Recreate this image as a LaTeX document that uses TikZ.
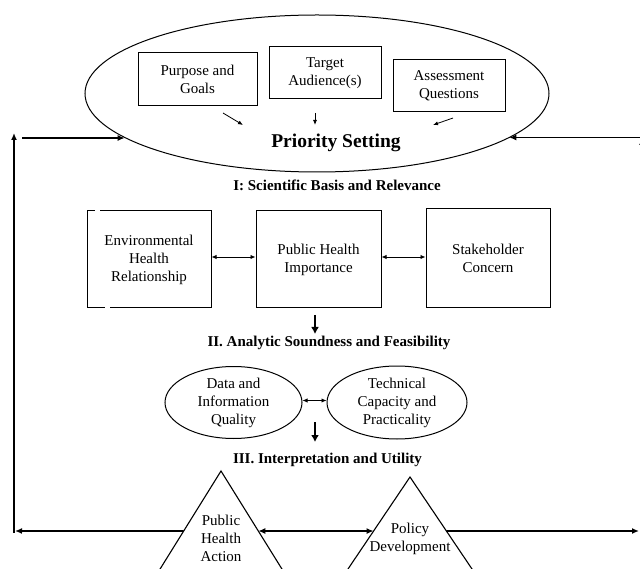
\documentclass[tikz,border=0pt]{standalone}
\usepackage{fontspec}
\setmainfont{Liberation Serif}
\usetikzlibrary{shapes.geometric,arrows.meta,calc}
\begin{document}
\begin{tikzpicture}[x=1pt,y=-1pt,
  txt/.style={font=\fontsize{15}{18}\selectfont, align=center, inner sep=0pt},
  head/.style={font=\fontsize{15}{18}\selectfont\bfseries, inner sep=0pt},
  boxA/.style={txt, draw, line width=1pt},
  oval/.style={txt, draw, ellipse, line width=1pt},
  thinboth/.style={line width=0.9pt, {Latex[length=5pt,width=4.5pt]}-{Latex[length=5pt,width=4.5pt]}},
  smallarr/.style={line width=0.8pt, -{Latex[length=5pt,width=4pt]}},
  looparr/.style={line width=1.8pt, -{Latex[length=7pt,width=6pt]}},
  loopboth/.style={line width=1.8pt, {Latex[length=7pt,width=6pt]}-{Latex[length=7pt,width=6pt]}},
  downarr/.style={line width=2.2pt, -{Latex[length=7pt,width=8pt]}},
  tri/.style={line width=1.1pt}
]
\fill[white] (0,0) rectangle (640,569);
\useasboundingbox (0,0) rectangle (640,569);
\clip (0,0) rectangle (640,569);

% Priority setting ellipse
\node[draw, ellipse, line width=1pt, minimum width=464pt, minimum height=157pt, inner sep=0pt] (ps) at (317,93.5) {};
\node[boxA, minimum width=119pt, minimum height=53pt] (pg) at (197.5,79.5) {Purpose and\\Goals};
\node[boxA, minimum width=112pt, minimum height=52pt] (ta) at (325,73) {Target\\Audience(s)};
\node[boxA, minimum width=112pt, minimum height=52pt] (aq) at (449,86) {Assessment\\Questions};
\node[font=\fontsize{19.5}{22}\selectfont\bfseries, inner sep=0pt] (pst) at (336,143) {Priority Setting};

\coordinate (a1s) at (223,113); \coordinate (a1e) at (243,125);
\coordinate (a2s) at (315,113); \coordinate (a2e) at (315,125);
\coordinate (a3s) at (453,118); \coordinate (a3e) at (433,125);
\draw[smallarr] (a1s) -- (a1e);
\draw[smallarr] (a2s) -- (a2e);
\draw[smallarr] (a3s) -- (a3e);

% Section I
\node[head] (h1) at (337,185) {I: Scientific Basis and Relevance};
\node[boxA, minimum width=124pt, minimum height=97pt] (ehr) at (149,259.5) {Environmental\\Health\\Relationship};
\draw[white, line width=2pt] (95,211) -- (100,211);
\draw[white, line width=2pt] (105,308) -- (110,308);
\node[boxA, minimum width=125pt, minimum height=97pt] (phi) at (318.5,259.5) {Public Health\\Importance};
\node[boxA, minimum width=124pt, minimum height=99pt] (sc) at (488,258.5) {Stakeholder\\Concern};
\draw[thinboth] ([yshift=2.5pt]ehr.east) -- ([yshift=2.5pt]ehr.east -| phi.west);
\draw[thinboth] ([yshift=2.5pt]phi.east) -- ([yshift=2.5pt]phi.east -| sc.west);

\coordinate (d1s) at (315,315); \coordinate (d1e) at (315,334);
\draw[downarr] (d1s) -- (d1e);

% Section II
\node[head] (h2) at (329,343) {II. Analytic Soundness and Feasibility};
\node[oval, minimum width=137pt, minimum height=72pt, inner sep=0pt] (diq) at (233.5,402.5) {Data and\\Information\\Quality};
\node[oval, minimum width=140pt, minimum height=73pt, inner sep=0pt] (tcp) at (397,402.5) {Technical\\Capacity and\\Practicality};
\draw[thinboth] ([yshift=2pt]diq.east) -- ([yshift=2pt]diq.east -| tcp.west);

\coordinate (d2s) at (315,422); \coordinate (d2e) at (315,442);
\draw[downarr] (d2s) -- (d2e);

% Section III
\node[head] (h3) at (327.5,460) {III. Interpretation and Utility};

\coordinate (t1a) at (221,471);
\coordinate (t1l) at (140.8,600);
\coordinate (t1r) at (301.2,600);
\draw[tri] (t1a) -- (t1l) -- (t1r) -- cycle;
\coordinate (t2a) at (410,477);
\coordinate (t2l) at (327.1,600);
\coordinate (t2r) at (492.9,600);
\draw[tri] (t2a) -- (t2l) -- (t2r) -- cycle;
\node[txt] (pha) at (221,538.5) {Public\\Health\\Action};
\node[txt] (pd) at (410,539) {Policy\\Development};

\coordinate (t1L) at (intersection of t1a--t1l and 0,531--100,531);
\coordinate (t1R) at (intersection of t1a--t1r and 0,531--100,531);
\coordinate (t2L) at (intersection of t2a--t2l and 0,531--100,531);
\coordinate (t2R) at (intersection of t2a--t2r and 0,531--100,531);
\draw[loopboth] (t1R) -- (t2L);

% feedback loop
\coordinate (lc) at (15,531);
\coordinate (lb) at (14,532.5);
\coordinate (lt) at (14,133);
\coordinate (ls) at (22,138);
\draw[looparr] (t1L) -- (lc);
\draw[looparr] (lb) -- (lt);
\draw[looparr] (ls) -- (ls -| ps.193);

\coordinate (re) at (639,531);
\coordinate (rs) at (641,137.5);
\coordinate (rvb) at (642,531);
\coordinate (rvt) at (642,138);
\draw[looparr] (t2R) -- (re);
\draw[looparr] (rs) -- (rs -| ps.347);
\draw[looparr] (rvb) -- (rvt);
\end{tikzpicture}
\end{document}
